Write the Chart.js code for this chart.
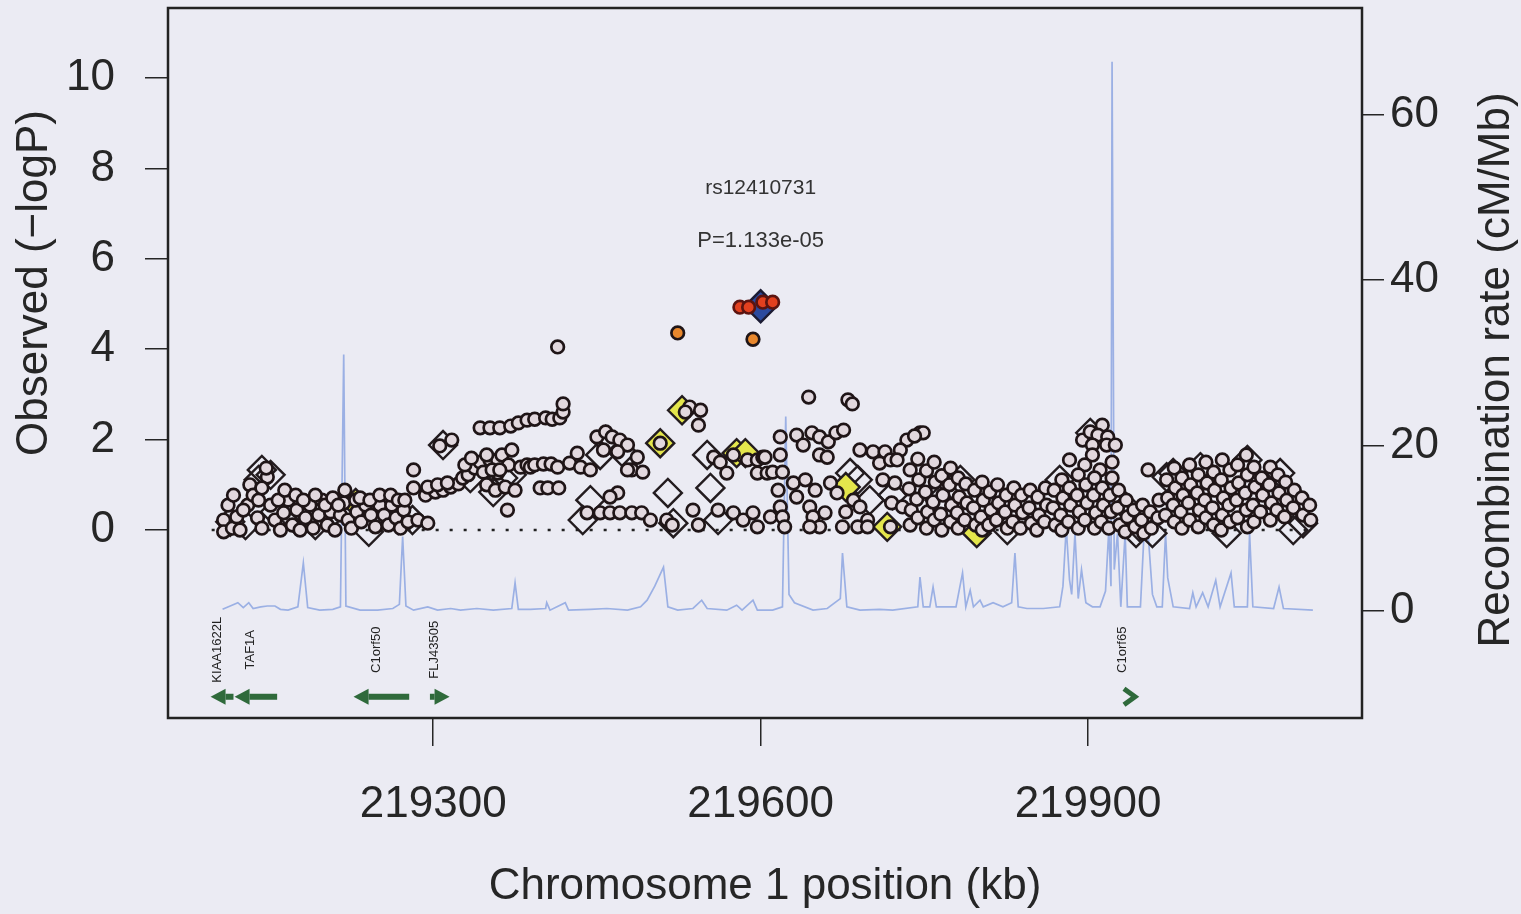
<!DOCTYPE html>
<html>
<head>
<meta charset="utf-8">
<title>rs12410731 regional plot</title>
<script src="https://cdn.jsdelivr.net/npm/chart.js@4.4.1/dist/chart.umd.min.js"></script>
<style>
  html, body { margin: 0; padding: 0; background: #ebebf3; }
  canvas { display: block; }
</style>
</head>
<body>
<canvas id="plot" width="1521" height="914"></canvas>
<script>
// axis ranges and ticks
const xMin = 219057, xMax = 220151;
const yMin = -4.16, yMax = 11.55;
const y2Min = -12.94, y2Max = 72.9;
const xTicks = [219300, 219600, 219900];
const yTicks = [0, 2, 4, 6, 8, 10];
const y2Ticks = [0, 20, 40, 60];

// SNPs: [position kb, -log10 P]
const greyCircles = [
  [219108,0.22],[219108,-0.04],[219116,0.04],[219120,0.29],[219123,0.0],[219130,0.55],[219132,1.0],[219135,0.77],
  [219139,0.27],[219143,0.04],[219148,1.17],[219147,1.37],[219151,0.55],[219155,0.22],[219160,0.0],[219163,0.38],
  [219167,0.66],[219171,0.11],[219175,0.44],[219178,0.0],[219183,0.27],[219187,0.55],[219190,0.04],[219195,0.33],
  [219198,0.66],[219203,0.11],[219206,0.40],[219210,0.0],[219215,0.33],[219218,0.60],[219219,0.88],[219222,0.22],
  [219225,0.04],[219230,0.40],[219234,0.18],[219238,0.55],[219243,0.33],[219247,0.07],[219251,0.55],[219255,0.33],
  [219259,0.11],[219262,0.55],[219266,0.27],[219270,0.04],[219273,0.44],[219277,0.18],[219282,0.93],[219282,1.33],
  [219286,0.22],[219295,0.15],[219112,0.55],[219117,0.77],[219126,0.44],[219140,0.66],[219143,0.93],[219158,0.66],
  [219164,0.88],[219174,0.77],[219181,0.66],[219192,0.77],[219201,0.55],[219208,0.71],[219213,0.55],[219229,0.66],
  [219233,0.71],[219242,0.66],[219251,0.77],[219261,0.77],[219268,0.66],[219274,0.66],
  [219306,1.86],[219317,1.99],[219343,2.26],[219352,2.26],[219361,2.26],[219371,2.30],[219378,2.37],[219386,2.43],
  [219393,2.45],[219403,2.48],[219409,2.45],[219416,2.48],[219419,2.61],[219419,2.79],
  [219293,0.77],[219302,0.84],[219309,0.88],[219316,0.95],[219323,1.02],[219327,1.15],[219332,1.22],[219338,1.37],
  [219343,1.50],[219346,1.28],[219349,1.00],[219352,1.55],[219357,0.88],[219359,1.26],[219359,1.55],[219363,1.66],
  [219366,0.95],[219369,1.44],[219372,1.77],[219375,0.88],[219380,1.39],[219386,1.44],[219389,1.39],[219393,1.44],
  [219398,0.93],[219401,1.46],[219405,0.93],[219408,1.46],[219414,1.39],[219415,0.93],[219368,0.44],[219295,0.95],
  [219304,1.00],[219313,1.04],[219329,1.44],[219335,1.59],[219349,1.66],[219354,1.33],[219361,1.33],
  [219414,4.05],[219425,1.48],[219432,1.70],[219435,1.39],[219444,1.33],[219450,2.06],[219458,2.17],[219464,2.06],
  [219471,1.99],[219478,1.88],[219456,1.77],[219469,1.73],[219482,1.33],[219487,1.61],[219492,1.28],[219535,2.72],
  [219545,2.65],[219543,2.32],[219508,1.92],[219531,2.61],[219557,1.61],[219563,1.50],[219569,1.26],[219575,1.66],
  [219588,1.55],[219597,1.55],[219602,1.61],[219597,1.26],[219606,1.26],[219469,0.82],[219441,0.38],[219453,0.38],
  [219462,0.38],[219471,0.38],[219482,0.38],[219491,0.38],[219499,0.22],[219514,0.22],[219519,0.11],[219538,0.44],
  [219543,0.11],[219561,0.44],[219575,0.38],[219584,0.22],[219593,0.38],[219597,0.07],[219462,0.73],[219478,1.33],
  [219644,2.94],[219680,2.88],[219684,2.79],[219633,2.10],[219639,1.88],[219647,2.15],[219654,2.06],[219662,1.95],
  [219669,2.15],[219676,2.21],[219654,1.66],[219661,1.61],[219618,2.06],[219604,1.61],[219618,1.66],[219611,1.28],
  [219620,1.28],[219616,0.88],[219630,1.04],[219633,0.73],[219618,0.51],[219609,0.29],[219620,0.29],[219622,0.07],
  [219645,0.51],[219648,0.29],[219654,0.07],[219645,0.07],[219659,0.38],[219675,0.07],[219664,1.04],[219670,0.82],
  [219685,0.66],[219691,0.51],[219698,0.22],[219689,0.07],[219698,0.07],[219691,1.77],[219703,1.73],[219714,1.73],
  [219709,1.48],[219719,1.55],[219734,1.99],[219746,2.15],[219749,2.15],[219741,2.08],[219728,1.77],[219725,1.55],
  [219712,1.11],[219723,1.04],[219720,0.60],[219730,0.51],[219719,0.07],[219641,1.11],[219650,0.88],[219678,0.40],
  [219737,1.33],[219736,0.91],[219738,0.44],[219737,0.11],[219744,1.57],[219745,1.11],[219743,0.68],[219744,0.27],
  [219752,1.31],[219751,0.84],[219753,0.40],[219752,0.04],[219759,1.50],[219760,1.06],[219758,0.62],[219759,0.22],
  [219766,1.20],[219767,0.77],[219765,0.35],[219766,0.0],[219774,1.37],[219773,1.00],[219775,0.55],[219774,0.18],
  [219781,1.15],[219782,0.73],[219780,0.38],[219781,0.04],[219788,1.02],[219789,0.60],[219787,0.22],[219796,0.88],
  [219795,0.49],[219797,0.11],[219803,1.06],[219804,0.66],[219802,0.29],[219803,0.0],[219810,0.84],[219811,0.44],
  [219809,0.11],[219817,1.00],[219818,0.60],[219816,0.22],[219825,0.77],[219824,0.40],[219826,0.04],[219832,0.93],
  [219833,0.55],[219831,0.18],[219839,0.77],[219840,0.38],[219838,0.04],[219847,0.88],[219846,0.49],[219848,0.15],
  [219854,0.73],[219855,0.33],[219853,0.0],[219861,0.93],[219862,0.55],[219860,0.18],
  [219895,1.99],[219902,2.17],[219913,2.32],[219909,2.10],[219918,2.06],[219904,1.88],[219917,1.88],[219925,1.88],
  [219904,1.66],[219922,1.50],[219911,1.33],[219922,1.15],[219897,1.44],[219883,1.55],[219955,1.33],
  [219869,0.88],[219868,0.49],[219870,0.11],[219876,1.11],[219877,0.71],[219875,0.33],[219876,0.0],[219883,0.93],
  [219884,0.55],[219882,0.18],[219891,1.22],[219890,0.77],[219892,0.40],[219891,0.04],[219898,1.00],[219899,0.60],
  [219897,0.22],[219906,1.15],[219905,0.77],[219907,0.38],[219906,0.04],[219913,0.93],[219914,0.55],[219912,0.18],
  [219920,0.77],[219921,0.40],[219919,0.04],[219928,0.88],[219927,0.49],[219929,0.11],[219935,0.66],[219936,0.29],
  [219934,-0.04],[219942,0.44],[219943,0.07],[219950,0.55],[219949,0.22],[219951,-0.07],[219957,0.40],[219958,0.04],
  [219965,0.66],[219964,0.27],[219972,1.11],[219973,0.71],[219971,0.33],[219979,1.37],[219980,0.93],[219978,0.55],
  [219979,0.18],[219986,1.15],[219987,0.77],[219985,0.40],[219986,0.04],[219993,1.44],[219994,1.00],[219992,0.60],
  [219993,0.22],[220001,1.22],[220000,0.82],[220002,0.44],[220001,0.07],[220008,1.50],[220009,1.04],[220007,0.66],
  [220008,0.27],[220015,1.28],[220016,0.88],[220014,0.49],[220015,0.11],[220023,1.55],[220022,1.11],[220024,0.71],
  [220023,0.33],[220022,0.0],[220030,1.33],[220031,0.93],[220029,0.55],[220030,0.18],[220037,1.44],[220038,1.04],
  [220036,0.66],[220037,0.27],[220045,1.66],[220046,1.22],[220044,0.82],[220045,0.44],[220046,0.07],[220052,1.39],
  [220053,0.95],[220051,0.55],[220052,0.18],[220059,1.15],[220060,0.77],[220058,0.40],[220067,1.39],[220066,1.00],
  [220068,0.60],[220067,0.22],[220074,1.22],[220075,0.82],[220073,0.44],[220081,1.06],[220082,0.66],[220080,0.29],
  [220089,0.88],[220088,0.49],[220096,0.71],[220097,0.33],[220103,0.55],[220104,0.22]
];
const greyDiamonds = [
  [219143,1.33],[219151,1.22],[219140,1.11],[219114,0.18],[219128,0.11],[219155,0.40],[219178,0.49],[219192,0.11],
  [219206,0.33],[219224,0.55],[219241,-0.04],[219250,0.40],[219268,0.22],[219281,0.22],[219174,0.22],
  [219309,1.88],[219334,1.15],[219352,1.33],[219364,1.15],[219355,0.84],[219372,1.22],
  [219444,0.66],[219437,0.22],[219458,1.99],[219473,1.73],[219453,1.66],[219515,0.82],[219520,0.15],[219551,1.66],
  [219554,0.93],[219561,0.22],
  [219682,1.26],[219689,1.11],[219721,0.77],[219700,0.66],[219826,0.0],[219764,0.66],[219783,1.11],
  [219935,0.51],[219947,0.07],[219959,-0.07],[219972,1.17],[219978,1.26],[220003,1.39],[220046,1.55],[220076,1.26],
  [220097,0.15],[220088,0.0],[220027,-0.07],[219944,-0.07],[219902,2.15],[219874,1.11]
];
const yellowDiamonds = [
  [219229,0.60],[219528,2.65],[219508,1.92],[219578,1.70],[219586,1.70],[219678,0.95],[219716,0.07],[219798,-0.07]
];
const orangeCircles = [[219524,4.36],[219593,4.22]];
const redCircles = [[219581,4.93],[219589,4.93],[219602,5.04],[219611,5.04]];
const indexSnp = [[219600,4.95]];
const indexName = 'rs12410731';
const indexPLabel = 'P=1.133e-05';

// recombination rate: [position kb, cM/Mb]
const recombRate = [
  [219107,0.2],[219114,0.6],[219121,1.0],[219126,0.4],[219131,1.0],[219135,0.3],[219142,0.5],[219148,0.6],
  [219155,0.6],[219160,0.2],[219167,0.1],[219176,0.5],[219181,5.8],[219185,0.4],[219196,0.1],[219208,0.2],
  [219215,0.5],[219218,31.0],[219220,0.6],[219233,0.1],[219249,0.1],[219263,0.3],[219269,0.8],[219272,9.0],
  [219275,0.6],[219282,0.1],[219295,0.5],[219304,0.1],[219316,0.3],[219325,0.1],[219340,0.3],[219355,0.1],
  [219372,0.3],[219375,3.4],[219378,0.2],[219389,0.2],[219403,0.3],[219404,1.0],[219407,0.1],[219421,1.0],
  [219424,0.1],[219444,0.2],[219459,0.3],[219478,0.1],[219490,0.5],[219496,1.3],[219503,3.0],[219511,5.3],
  [219515,0.5],[219524,0.1],[219538,0.3],[219546,1.3],[219551,0.3],[219569,0.1],[219578,0.7],[219583,0.1],
  [219593,1.3],[219597,0.1],[219611,0.1],[219620,0.5],[219623,23.5],[219626,2.0],[219631,1.0],[219648,0.1],
  [219661,0.3],[219673,1.5],[219675,7.0],[219679,0.5],[219691,0.1],[219709,0.2],[219721,0.1],[219744,0.5],
  [219746,4.1],[219749,0.5],[219755,0.5],[219758,2.9],[219761,0.5],[219779,0.5],[219785,4.6],[219788,0.5],
  [219792,2.5],[219795,0.5],[219801,1.3],[219804,0.5],[219813,1.0],[219822,0.5],[219830,1.0],[219833,7.0],
  [219836,0.5],[219844,0.3],[219859,0.3],[219874,0.5],[219877,3.0],[219880,10.1],[219883,3.8],[219885,2.0],
  [219888,9.4],[219891,1.5],[219894,5.0],[219898,1.0],[219904,0.5],[219911,0.5],[219916,2.4],[219919,9.8],
  [219921,3.0],[219922,66.4],[219924,5.0],[219927,9.4],[219930,0.5],[219934,9.4],[219936,0.5],[219948,0.5],
  [219951,8.6],[219955,9.4],[219959,2.0],[219963,0.5],[219968,0.5],[219971,9.4],[219973,4.0],[219978,0.5],
  [219993,0.3],[219996,2.2],[219999,0.5],[220005,2.2],[220010,0.5],[220017,3.7],[220021,0.5],[220031,4.6],
  [220034,0.5],[220046,0.5],[220048,9.4],[220051,0.5],[220070,0.3],[220075,2.9],[220079,0.3],[220106,0.1]
];
const baselineSpan = [219097, 220108];

// genes
const geneNames = ['KIAA1622L', 'TAF1A', 'C1orf50', 'FLJ43505', 'C1orf65'];
const geneStart = [219096, 219118, 219227, 219297, 219929];
const geneEnd = [219117, 219157, 219278, 219315, 219943];
const geneStrand = ['-', '-', '-', '+', '+'];
const geneRowLogP = -3.69;
const geneLabelLogP = -2.65;

const paper = '#ebebf3';
const ink = '#262626';
const fontFamily = '"Liberation Sans", Arial, sans-serif';
const axisFont = { family: fontFamily, size: 44 };

function pts(list) {
  return list.map(p => ({ x: p[0], y: p[1] }));
}

// keep the plot box where the reference has it
function noPadding(s) {
  s.paddingTop = 0;
  s.paddingBottom = 0;
  s.paddingLeft = 0;
  s.paddingRight = 0;
}

const plotDecor = {
  id: 'plotDecor',
  beforeDraw(chart) {
    const ctx = chart.ctx;
    ctx.save();
    ctx.fillStyle = paper;
    ctx.fillRect(0, 0, chart.width, chart.height);
    ctx.restore();
  },
  afterDatasetsDraw(chart) {
    const { ctx, scales: { x, y } } = chart;
    ctx.save();
    // gene arrows and names
    const rowY = y.getPixelForValue(geneRowLogP);
    const labelY = y.getPixelForValue(geneLabelLogP);
    ctx.fillStyle = '#2f6a3b';
    ctx.strokeStyle = '#2f6a3b';
    geneNames.forEach((name, i) => {
      const x0 = x.getPixelForValue(geneStart[i]);
      const x1 = x.getPixelForValue(geneEnd[i]);
      const len = x1 - x0;
      const dir = geneStrand[i] === '+' ? 1 : -1;
      const tip = dir > 0 ? x1 : x0;
      if (len < 18) {
        ctx.lineWidth = 5;
        ctx.lineJoin = 'miter';
        ctx.beginPath();
        ctx.moveTo(tip - dir * 11, rowY - 8);
        ctx.lineTo(tip, rowY);
        ctx.lineTo(tip - dir * 11, rowY + 8);
        ctx.stroke();
      } else {
        const head = 15;
        const base = tip - dir * head;
        const tail = dir > 0 ? x0 : x1;
        ctx.fillRect(Math.min(base, tail), rowY - 3, Math.abs(tail - base), 6);
        ctx.beginPath();
        ctx.moveTo(tip, rowY);
        ctx.lineTo(base, rowY - 8);
        ctx.lineTo(base, rowY + 8);
        ctx.closePath();
        ctx.fill();
      }
      ctx.save();
      ctx.translate((x0 + x1) / 2 - 5, labelY);
      ctx.rotate(-Math.PI / 2);
      ctx.fillStyle = '#222';
      ctx.font = '13px ' + fontFamily;
      ctx.textAlign = 'center';
      ctx.textBaseline = 'middle';
      ctx.fillText(name, 0, 0);
      ctx.restore();
    });
    // index SNP labels
    const px = x.getPixelForValue(indexSnp[0][0]);
    const py = y.getPixelForValue(indexSnp[0][1]);
    ctx.fillStyle = '#333';
    ctx.textAlign = 'center';
    ctx.textBaseline = 'middle';
    ctx.font = '21px ' + fontFamily;
    ctx.fillText(indexName, px, py - 118);
    ctx.font = '22px ' + fontFamily;
    ctx.fillText(indexPLabel, px, py - 65);
    ctx.restore();
  },
  afterDraw(chart) {
    const { ctx, chartArea: a } = chart;
    ctx.save();
    ctx.strokeStyle = '#222';
    ctx.lineWidth = 2.5;
    ctx.strokeRect(a.left, a.top, a.right - a.left, a.bottom - a.top);
    ctx.fillStyle = ink;
    ctx.font = '44px ' + fontFamily;
    ctx.textAlign = 'center';
    ctx.textBaseline = 'middle';
    ctx.save();
    ctx.translate(35, 283);
    ctx.rotate(-Math.PI / 2);
    ctx.fillText('Observed (\u2212logP)', 0, 0);
    ctx.restore();
    ctx.save();
    ctx.translate(1497, 370);
    ctx.rotate(-Math.PI / 2);
    ctx.fillText('Recombination rate (cM/Mb)', 0, 0);
    ctx.restore();
    ctx.restore();
  }
};

const circleStyle = {
  pointStyle: 'circle', pointRadius: 6.3, pointBorderWidth: 2.7,
  pointBorderColor: '#1f1517', pointHoverRadius: 6.3
};

new Chart(document.getElementById('plot'), {
  type: 'scatter',
  data: {
    datasets: [
      {
        label: 'red', data: pts(redCircles), order: 0, ...circleStyle,
        pointBackgroundColor: '#e2401f', pointBorderColor: '#5b1410'
      },
      {
        label: 'index', data: pts(indexSnp), order: 1,
        pointStyle: 'rectRot', pointRadius: 16, pointBorderWidth: 2.5,
        pointBackgroundColor: '#2b4a9e', pointBorderColor: '#1b1b33'
      },
      {
        label: 'orange', data: pts(orangeCircles), order: 2, ...circleStyle,
        pointBackgroundColor: '#e8872c'
      },
      {
        label: 'grey', data: pts(greyCircles), order: 3, ...circleStyle,
        pointBackgroundColor: '#e2d8de'
      },
      {
        label: 'yellow', data: pts(yellowDiamonds), order: 4,
        pointStyle: 'rectRot', pointRadius: 14, pointBorderWidth: 2.4,
        pointBackgroundColor: '#e4e64c', pointBorderColor: '#231c1f'
      },
      {
        label: 'diamonds', data: pts(greyDiamonds), order: 5,
        pointStyle: 'rectRot', pointRadius: 14, pointBorderWidth: 2.4,
        pointBackgroundColor: 'rgba(0,0,0,0)', pointBorderColor: '#231c1f'
      },
      {
        type: 'line', label: 'baseline', order: 6,
        data: baselineSpan.map(v => ({ x: v, y: 0 })),
        borderColor: '#222', borderWidth: 2.5, borderDash: [3, 11],
        pointRadius: 0, fill: false
      },
      {
        type: 'line', label: 'recomb', order: 7, yAxisID: 'y2',
        data: pts(recombRate),
        borderColor: '#9bb0e4', borderWidth: 1.7, pointRadius: 0,
        tension: 0, fill: false
      }
    ]
  },
  options: {
    responsive: false,
    animation: false,
    layout: { autoPadding: false, padding: { top: 8, left: 0, right: 0, bottom: 0 } },
    plugins: { legend: { display: false }, tooltip: { enabled: false } },
    scales: {
      x: {
        type: 'linear', min: xMin, max: xMax,
        afterBuildTicks: s => { s.ticks = xTicks.map(v => ({ value: v })); },
        afterFit: s => { s.height = 196; noPadding(s); },
        ticks: { font: axisFont, color: ink, padding: 32, maxRotation: 0, autoSkip: false, callback: v => String(v) },
        grid: { drawOnChartArea: false, tickLength: 28, color: ink, lineWidth: 1.5 },
        border: { display: false },
        title: { display: true, text: 'Chromosome 1 position (kb)', font: axisFont, color: ink, padding: { top: 0, bottom: 1 } }
      },
      y: {
        position: 'left', min: yMin, max: yMax,
        afterBuildTicks: s => { s.ticks = yTicks.map(v => ({ value: v })); },
        afterFit: s => { s.width = 168; noPadding(s); },
        ticks: { font: axisFont, color: ink, padding: 30, callback: v => String(v) },
        grid: { drawOnChartArea: false, tickLength: 23, color: ink, lineWidth: 1.5 },
        border: { display: false }
      },
      y2: {
        position: 'right', min: y2Min, max: y2Max,
        afterBuildTicks: s => { s.ticks = y2Ticks.map(v => ({ value: v })); },
        afterFit: s => { s.width = 159; noPadding(s); },
        ticks: { font: axisFont, color: ink, padding: 6, callback: v => String(v) },
        grid: { drawOnChartArea: false, tickLength: 22, color: ink, lineWidth: 1.5 },
        border: { display: false }
      }
    }
  },
  plugins: [plotDecor]
});
</script>
</body>
</html>
